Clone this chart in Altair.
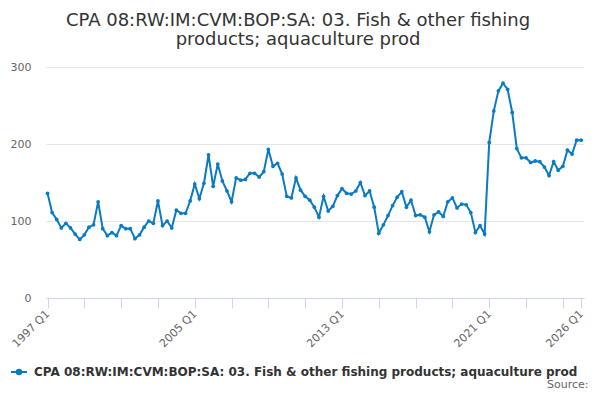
import altair as alt
import pandas as pd

series_name = "CPA 08:RW:IM:CVM:BOP:SA: 03. Fish & other fishing products; aquaculture prod"
title_lines = ["CPA 08:RW:IM:CVM:BOP:SA: 03. Fish & other fishing", "products; aquaculture prod"]

start_year = 1997
values = [
    136, 111, 102, 91, 97, 91, 83, 76, 82, 92, 95, 125, 90, 81, 85, 81, 94, 90, 90, 77,
    82, 92, 100, 97, 126, 94, 100, 91, 114, 110, 110, 126, 148, 129, 149, 186, 145, 174, 152, 139,
    125, 156, 153, 154, 162, 162, 157, 164, 193, 171, 175, 161, 132, 130, 156, 140, 132, 127, 118, 105,
    132, 113, 119, 133, 142, 136, 135, 139, 150, 133, 139, 118, 84, 95, 107, 120, 131, 138, 118, 127,
    107, 108, 105, 86, 108, 112, 106, 125, 130, 117, 122, 121, 111, 85, 94, 83, 202, 243, 269, 279,
    271, 241, 194, 182, 182, 176, 178, 177, 170, 159, 177, 166, 171, 192, 187, 205, 205,
]
quarters = [f"{start_year + i // 4} Q{i % 4 + 1}" for i in range(len(values))]
y_ticks = [0, 100, 200, 300]

df = pd.DataFrame({
    "idx": list(range(len(values))),
    "quarter": quarters,
    "value": values,
    "series": [series_name] * len(values),
})

FONT = "DejaVu Sans"
COLOR = "#0b7bc1"
n_last = len(values) - 1
tick_vals = list(range(0, n_last, 8)) + [n_last]

x_enc = alt.X(
    "idx:Q",
    scale=alt.Scale(domain=[-0.33, 116.6], nice=False, zero=False),
    axis=alt.Axis(
        values=tick_vals,
        tickCount=40,
        labelExpr=f"(datum.value % 32 == 0 || datum.value == {n_last}) ? ({start_year} + floor(datum.value/4)) + ' Q1' : ''",
        labelAngle=-45,
        labelAlign="right",
        labelBaseline="middle",
        labelPadding=4,
        labelOverlap=False,
        labelFlush=False,
        labelColor="#666666",
        labelFontSize=11,
        labelFont=FONT,
        tickColor="#ccd6eb",
        tickSize=10,
        domainColor="#ccd6eb",
        grid=False,
        title="Source:",
        titleX=542,
        titleY=89,
        titleAlign="right",
        titleAnchor="end",
        titleBaseline="alphabetic",
        titleFontWeight="normal",
        titleFontSize=11,
        titleColor="#666666",
        titleFont=FONT,
    ),
)
y_enc = alt.Y(
    "value:Q",
    scale=alt.Scale(domain=[0, 300], nice=False),
    axis=alt.Axis(
        values=y_ticks,
        title=None,
        domain=False,
        ticks=False,
        gridColor="#e6e6e6",
        labelColor="#666666",
        labelFontSize=11,
        labelFont=FONT,
        labelPadding=15,
    ),
)

line = alt.Chart(df).mark_line(strokeWidth=2).encode(
    x=x_enc,
    y=y_enc,
    color=alt.Color(
        "series:N",
        scale=alt.Scale(range=[COLOR]),
        legend=alt.Legend(
            title=None,
            orient="none",
            legendX=-36,
            legendY=296,
            symbolType="M-1,0L1,0M0.28,0A0.28,0.28 0 1,1 -0.28,0A0.28,0.28 0 1,1 0.28,0Z",
            symbolSize=256,
            symbolStrokeWidth=2,
            symbolFillColor=COLOR,
            labelFontWeight="bold",
            labelFontSize=12,
            labelColor="#333333",
            labelFont=FONT,
            labelLimit=0,
            labelOffset=6,
        ),
    ),
    tooltip=["quarter:N", "value:Q"],
)
points = alt.Chart(df).mark_point(filled=True, size=14, opacity=1, color=COLOR).encode(
    x="idx:Q",
    y="value:Q",
)

chart = (
    alt.layer(line, points)
    .properties(
        width=538,
        height=231,
        autosize=alt.AutoSizeParams(type="none"),
        padding={"left": 38, "top": 59, "right": 8, "bottom": 94},
        title=alt.TitleParams(
            text=title_lines,
            anchor="middle",
            dx=-17,
            offset=12,
            fontSize=18,
            fontWeight="normal",
            color="#333333",
            font=FONT,
            lineHeight=19,
        ),
    )
    .configure_view(stroke=None)
)

chart.save("out.html", embed_options={"renderer": "svg", "actions": False})
